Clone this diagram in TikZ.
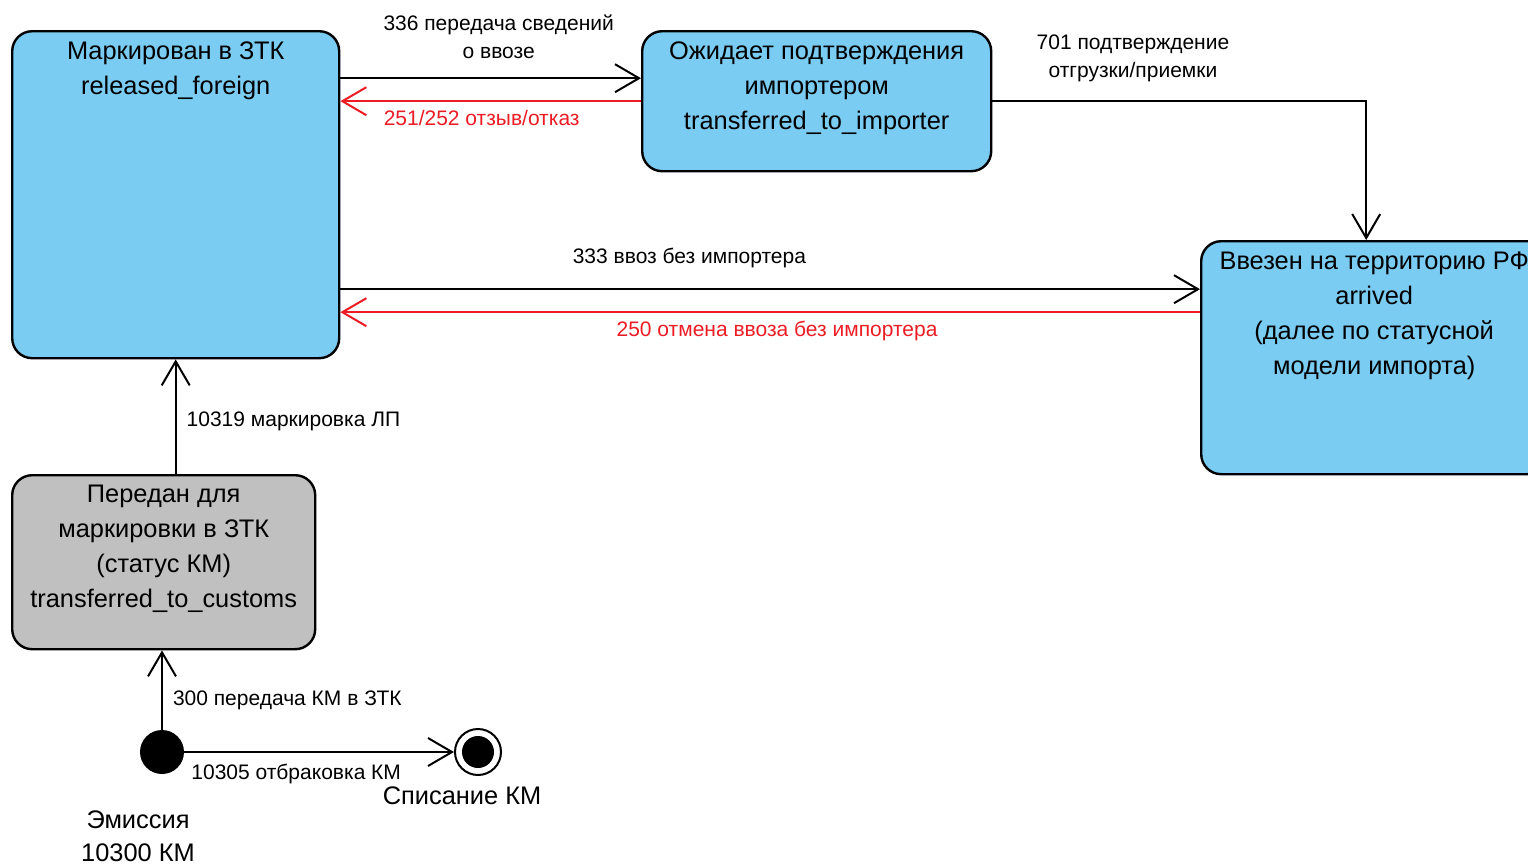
\documentclass[tikz,border=0pt]{standalone}
\usepackage{fontspec}
\setmainfont{Liberation Sans}
\usetikzlibrary{arrows.meta,positioning,calc}

\definecolor{bleuetat}{RGB}{122,204,242}
\definecolor{grisetat}{RGB}{192,192,192}
\definecolor{rougeretour}{RGB}{236,28,36}

\tikzset{
  etat/.style={draw=black, line width=1.2pt, rounded corners=10pt, fill=bleuetat, inner sep=0pt, anchor=north west},
  titre/.style={anchor=north, align=center, inner sep=0pt, yshift=-5.5pt, font=\fontsize{12.7}{17.5}\selectfont},
  nom/.style={align=center, inner sep=0pt, font=\fontsize{12.7}{16.5}\selectfont},
  fleche/.style={line width=1pt, -{Straight Barb[length=12pt,width=14pt]}},
  retour/.style={fleche, draw=rougeretour},
  etiquette/.style={font=\fontsize{10.5}{14}\selectfont, align=center, inner sep=1pt},
}

\begin{document}
\begin{tikzpicture}[x=0.5pt,y=-0.5pt]
        % Le cadre : une unité = un pixel de l'image
        \useasboundingbox (0,0) rectangle (1528,867);
        \clip (0,0) rectangle (1528,867);

        % Les états (le texte est en haut de chaque boîte)
        \node[etat, minimum width=163.5pt, minimum height=163.5pt,
              label={[titre]north:{Маркирован в ЗТК\\released\_foreign}}] (marque) at (11,30) {};
        \node[etat, minimum width=174.5pt, minimum height=70pt,
              label={[titre]north:{Ожидает подтверждения\\импортером\\transferred\_to\_importer}}] (attente) at (641,30) {};
        \node[etat, minimum width=173pt, minimum height=116.5pt,
              label={[titre]north:{Ввезен на территорию РФ\\arrived\\(далее по статусной\\модели импорта)}}] (arrive) at (1200,240) {};
        \node[etat, fill=grisetat, minimum width=151.5pt, minimum height=87pt,
              label={[titre]north:{Передан для\\маркировки в ЗТК\\(статус КМ)\\transferred\_to\_customs}}] (transmis) at (11,474) {};

        % Début et fin : émission et radiation
        \node[circle, fill=black, minimum size=22pt, inner sep=0pt] (emission) at (162,752) {};
        \node[circle, draw=black, line width=1pt, fill=white, minimum size=23pt, inner sep=0pt,
              path picture={\fill[black] (path picture bounding box.center) circle (8pt);}] (radiation) at (478,752) {};
        \node[nom] (nomemission) at (138,836) {Эмиссия\\10300 КМ};
        \node[nom] (nomradiation) at (462,796) {Списание КМ};

        % Points d'appui pour les flèches parallèles
        \coordinate (a1) at ([yshift=11.5pt]attente.west);
        \coordinate (c1) at ([yshift=34.25pt]arrive.west);
        \coordinate (c2) at ([yshift=22.75pt]arrive.west);

        % Les transitions
        \draw[fleche] (marque.east |- a1) -- node[etiquette, above=8pt, xshift=4pt]{336 передача сведений\\о ввозе} (a1);
        \draw[retour] (attente.west) -- node[etiquette, text=rougeretour, below=3pt, pos=0.53]{251/252 отзыв/отказ} (marque.east |- attente.west);
        \draw[fleche] (attente.east) -| node[etiquette, above=8pt, pos=0.188]{701 подтверждение\\отгрузки/приемки} ([xshift=-4pt]arrive.north);
        \draw[fleche] (marque.east |- c1) -- node[etiquette, above=9pt, pos=0.406]{333 ввоз без импортера} (c1);
        \draw[retour] (c2) -- node[etiquette, text=rougeretour, below=3pt, pos=0.492]{250 отмена ввоза без импортера} (marque.east |- c2);
        \draw[fleche] (marque.south |- transmis.north) -- node[etiquette, right=4pt, pos=0.46]{10319 маркировка ЛП} (marque.south);
        \draw[fleche] (emission.north) -- node[etiquette, right=4pt, pos=0.37]{300 передача КМ в ЗТК} (emission.north |- transmis.south);
        \draw[fleche] (emission.east) -- node[etiquette, anchor=north west, pos=0, xshift=2pt, yshift=-4.5pt]{10305 отбраковка КМ} (radiation.west);
\end{tikzpicture}
\end{document}
